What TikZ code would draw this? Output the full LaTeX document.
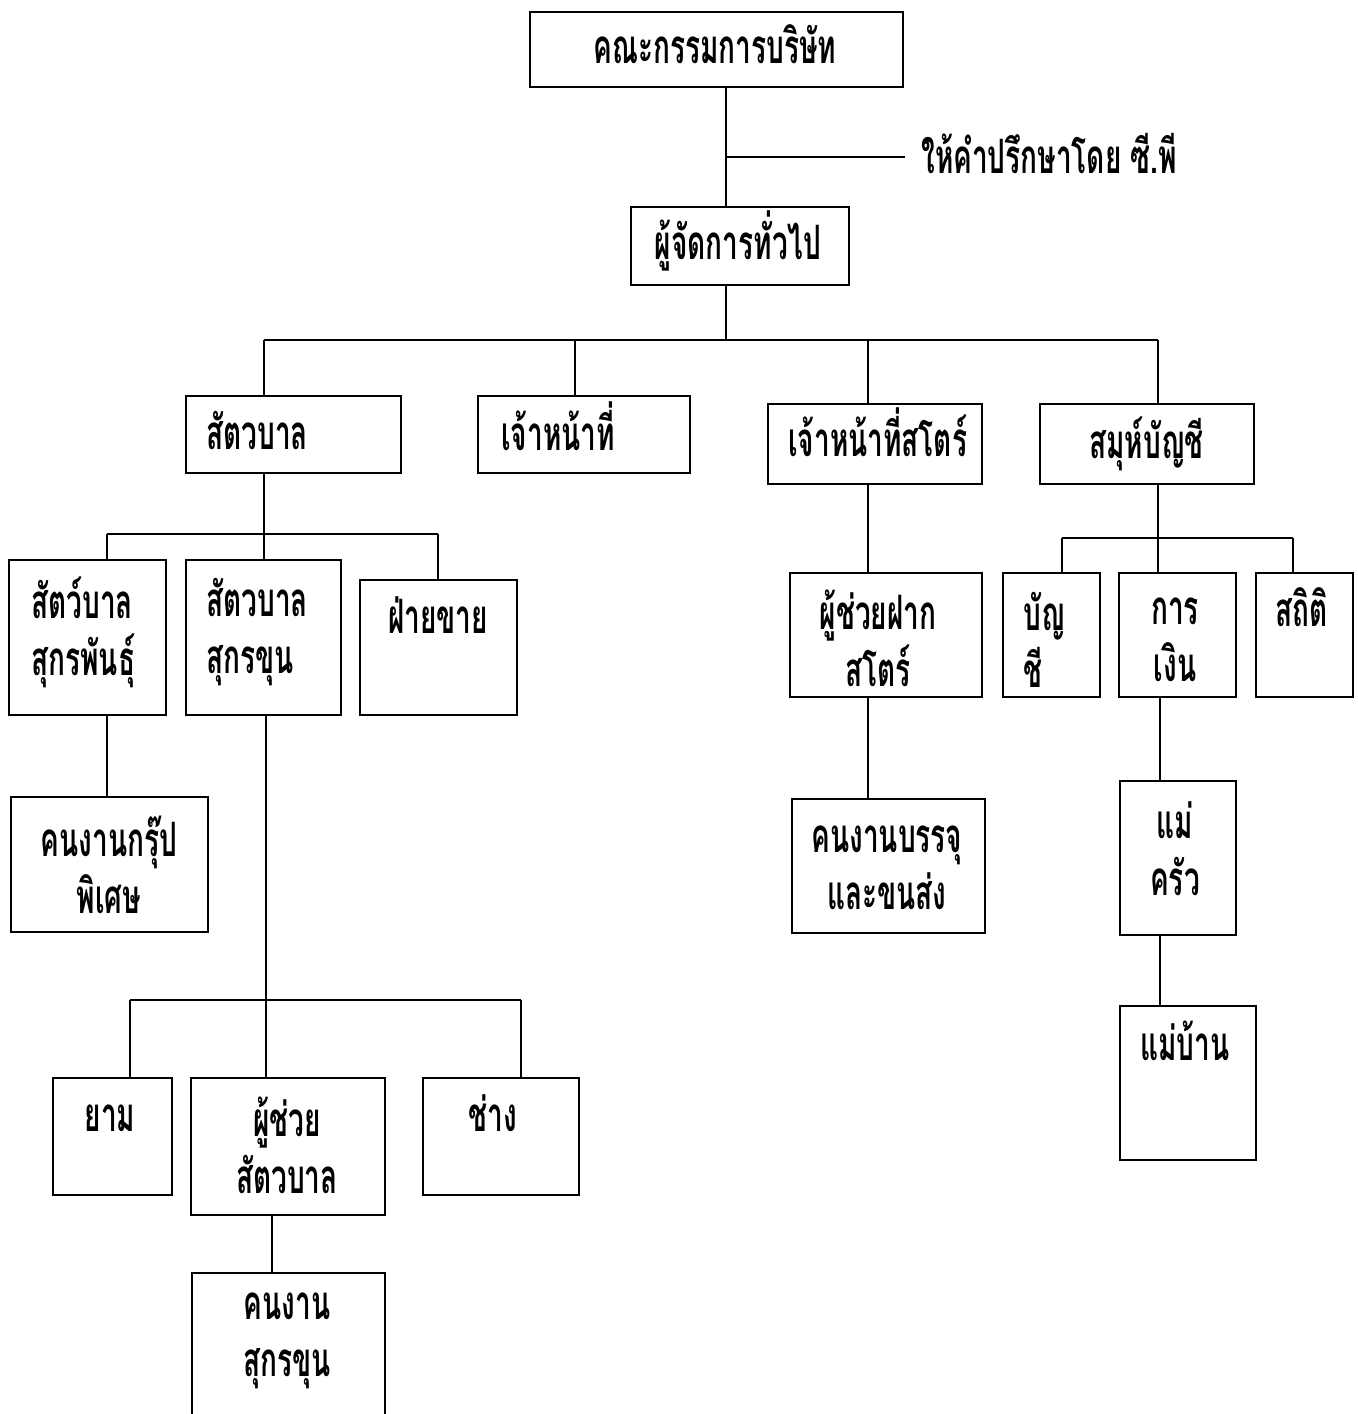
\documentclass[tikz,border=0pt]{standalone}
\usepackage{fontspec}
\newfontfamily\thaifont[Script=Thai,FakeStretch=0.59]{Loma}
\usetikzlibrary{fit}

\begin{document}
\begin{tikzpicture}[x=0.02cm,y=-0.02cm,line width=1.6pt,
  box/.style={draw,inner sep=0pt},
  txt/.style={font=\thaifont\bfseries\fontsize{27}{32.3}\selectfont,inner sep=0pt},
  one/.style={txt,anchor=mid,yshift=-0.2cm},
  lft/.style={txt,anchor=mid west,yshift=-0.2cm},
  two/.style={txt,align=center,anchor=center},
  twol/.style={txt,align=left,anchor=west}]
\useasboundingbox (0,0) rectangle (1357,1414);

% boxes
\node[box,fit={(530,12)(903,87)}] (board) {};
\node[box,fit={(631,207)(849,285)}] (gm) {};
\node[box,fit={(186,396)(401,473)}] (vet) {};
\node[box,fit={(478,396)(690,473)}] (off) {};
\node[box,fit={(768,404)(982,484)}] (store) {};
\node[box,fit={(1040,404)(1254,484)}] (acct) {};
\node[box,fit={(9,560)(166,715)}] (breed) {};
\node[box,fit={(186,560)(341,715)}] (fatt) {};
\node[box,fit={(360,580)(517,715)}] (sales) {};
\node[box,fit={(11,797)(208,932)}] (grp) {};
\node[box,fit={(53,1078)(172,1195)}] (guard) {};
\node[box,fit={(191,1078)(385,1215)}] (asst) {};
\node[box,fit={(423,1078)(579,1195)}] (tech) {};
\node[box,fit={(192,1273)(385,1450)}] (wrk) {};
\node[box,fit={(790,573)(982,697)}] (stasst) {};
\node[box,fit={(792,799)(985,933)}] (pack) {};
\node[box,fit={(1003,573)(1100,697)}] (book) {};
\node[box,fit={(1119,573)(1236,697)}] (fin) {};
\node[box,fit={(1256,573)(1353,697)}] (stat) {};
\node[box,fit={(1120,781)(1236,935)}] (cook) {};
\node[box,fit={(1120,1006)(1256,1160)}] (maid) {};

% texts
\node[one] (boardt) at (715,50) {คณะกรรมการบริษัท};
\node[lft] (advt) at (920,160) {ให้คำปรึกษาโดย ซี.พี};
\node[one] (gmt) at (738,246) {ผู้จัดการทั่วไป};
\node[lft] (vett) at (205,436) {สัตวบาล};
\node[lft] (offt) at (500,437) {เจ้าหน้าที่};
\node[lft] (storet) at (787,443) {เจ้าหน้าที่สโตร์};
\node[lft] (acctt) at (1088,445) {สมุห์บัญชี};
\node[twol] (breedt) at (30,632) {สัตว์บาล\\สุกรพันธุ์};
\node[twol] (fattt) at (205,632) {สัตวบาล\\สุกรขุน};
\node[one] (salest) at (438,620) {ฝ่ายขาย};
\node[two] (grpt) at (109,865) {คนงานกรุ๊ป\\พิเศษ};
\node[one] (guardt) at (110,1118) {ยาม};
\node[two] (asstt) at (287,1145) {ผู้ช่วย\\สัตวบาล};
\node[one] (techt) at (493,1118) {ช่าง};
\node[two] (wrkt) at (287,1341) {คนงาน\\สุกรขุน};
\node[two] (stasstt) at (878,638) {ผู้ช่วยฝาก\\สโตร์};
\node[two] (packt) at (887,868) {คนงานบรรจุ\\และขนส่ง};
\node[twol] (bookt) at (1022,640) {บัญ\\ชี};
\node[two] (fint) at (1175,640) {การ\\เงิน};
\node[one] (statt) at (1302,613) {สถิติ};
\node[two] (cookt) at (1175,849) {แม่\\ครัว};
\node[one] (maidt) at (1185,1047) {แม่บ้าน};

% taps on the buses
\coordinate (trunk) at (726,340);
\coordinate (adv) at (726,157);
\coordinate (advend) at (905,157);
\coordinate (tvet) at (264,340);
\coordinate (toff) at (575,340);
\coordinate (tstore) at (868,340);
\coordinate (tacct) at (1158,340);
\coordinate (tbreed) at (107,534);
\coordinate (tfatt) at (264,534);
\coordinate (tsales) at (438,534);
\coordinate (tguard) at (130,1000);
\coordinate (tasst) at (266,1000);
\coordinate (ttech) at (521,1000);
\coordinate (twrk) at (272,1240);
\coordinate (tbook) at (1062,538);
\coordinate (tfin) at (1158,538);
\coordinate (tstat) at (1293,538);
\coordinate (tcook) at (1160,740);

% connectors
\draw (board.south -| trunk) -- (gm.north -| trunk);
\draw (adv) -- (advend);
\draw (gm.south -| trunk) -- (trunk);
\draw (tvet) -- (tacct);
\foreach \t/\b in {tvet/vet,toff/off,tstore/store,tacct/acct}
  \draw (\t) -- (\t |- \b.north);
\draw (tfatt |- vet.south) -- (tfatt);
\draw (tbreed) -- (tsales);
\foreach \t/\b in {tbreed/breed,tfatt/fatt,tsales/sales}
  \draw (\t) -- (\t |- \b.north);
\draw (tbreed |- breed.south) -- (tbreed |- grp.north);
\draw (tasst |- fatt.south) -- (tasst);
\draw (tguard) -- (ttech);
\foreach \t/\b in {tguard/guard,tasst/asst,ttech/tech}
  \draw (\t) -- (\t |- \b.north);
\draw (twrk |- asst.south) -- (twrk |- wrk.north);
\draw (tstore |- store.south) -- (tstore |- stasst.north);
\draw (tstore |- stasst.south) -- (tstore |- pack.north);
\draw (tfin |- acct.south) -- (tfin);
\draw (tbook) -- (tstat);
\foreach \t/\b in {tbook/book,tfin/fin,tstat/stat}
  \draw (\t) -- (\t |- \b.north);
\draw (tcook |- fin.south) -- (tcook |- cook.north);
\draw (tcook |- cook.south) -- (tcook |- maid.north);
\end{tikzpicture}
\end{document}
